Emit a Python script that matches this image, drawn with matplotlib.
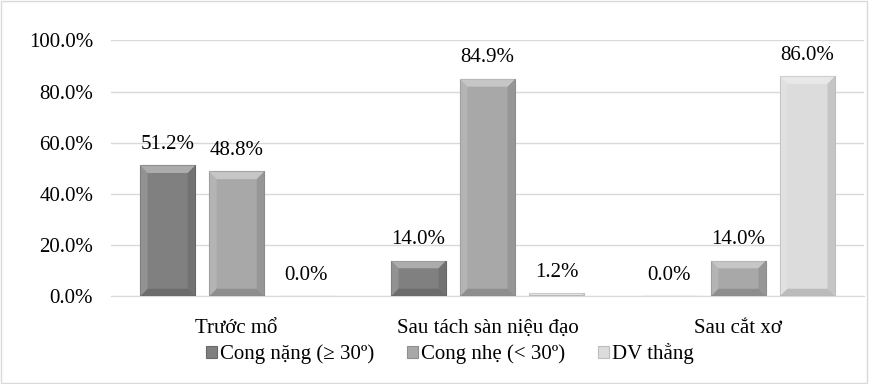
import matplotlib.pyplot as plt
import matplotlib.patches as patches
import numpy as np

plt.rcParams['font.family'] = ['Liberation Serif', 'DejaVu Serif']

categories = ['Trước mổ', 'Sau tách sàn niệu đạo', 'Sau cắt xơ']
series_names = ['Cong nặng (≥ 30º)', 'Cong nhẹ (< 30º)', 'DV thẳng']
cong_nang = [51.2, 14.0, 0.0]
cong_nhe = [48.8, 84.9, 14.0]
dv_thang = [0.0, 1.2, 86.0]
colors = ['#808080', '#a8a8a8', '#dcdcdc']
edges = ['#6a6a6a', '#8f8f8f', '#bdbdbd']

fig = plt.figure(figsize=(8.69, 3.84), dpi=100)
ax = fig.add_axes([0.128, 0.228, 0.866, 0.667])

x = np.arange(len(categories))
width = 0.22
step = 0.275
data = [cong_nang, cong_nhe, dv_thang]
fs = 15

for i, vals in enumerate(data):
    pos = x + (i - 1) * step
    bars = ax.bar(pos, vals, width, color=colors[i], edgecolor=edges[i],
                  linewidth=0.8, label=series_names[i], zorder=3)
    for b, v in zip(bars, vals):
        # bevel shading on each bar
        if v > 0:
            bx, bw = b.get_x(), b.get_width()
            dy = min(3.0, v / 2)
            d = 0.03 * dy / 3.0
            shades = [
                ([(bx, v), (bx + bw, v), (bx + bw - d, v - dy), (bx + d, v - dy)], 'white', 0.35),
                ([(bx, 0), (bx + bw, 0), (bx + bw - d, dy), (bx + d, dy)], 'black', 0.15),
                ([(bx, 0), (bx, v), (bx + d, v - dy), (bx + d, dy)], 'white', 0.15),
                ([(bx + bw, 0), (bx + bw, v), (bx + bw - d, v - dy), (bx + bw - d, dy)], 'black', 0.10),
            ]
            for pts, c, a in shades:
                ax.add_patch(patches.Polygon(pts, closed=True, color=c, alpha=a, lw=0, zorder=4))
        ax.text(b.get_x() + b.get_width() / 2, v + 4.5, f'{v:.1f}%',
                ha='center', va='bottom', fontsize=fs)

ax.set_xlim(-0.5, 2.5)
ax.set_ylim(0, 100)
ax.set_yticks(np.arange(0, 101, 20))
ax.set_yticklabels([f'{t:.1f}%' for t in np.arange(0, 101, 20)], fontsize=fs)
ax.set_xticks(x)
ax.set_xticklabels(categories, fontsize=fs)
ax.tick_params(axis='y', length=0, pad=13)
ax.tick_params(axis='x', length=0, pad=16)
ax.grid(axis='y', color='#d9d9d9', linewidth=1, zorder=0)
for s in ['top', 'right', 'left']:
    ax.spines[s].set_visible(False)
ax.spines['bottom'].set_color('#d9d9d9')

ax.legend(loc='upper center', bbox_to_anchor=(0.45, -0.11), ncol=3, frameon=False,
          fontsize=fs, handlelength=0.5, handleheight=0.5, handletextpad=0.15,
          columnspacing=1.6)

fig.patches.append(patches.Rectangle((0.001, 0.002), 0.997, 0.995, transform=fig.transFigure,
                                     fill=False, edgecolor='#d9d9d9', lw=1))

fig.savefig('out.png', dpi=100)
